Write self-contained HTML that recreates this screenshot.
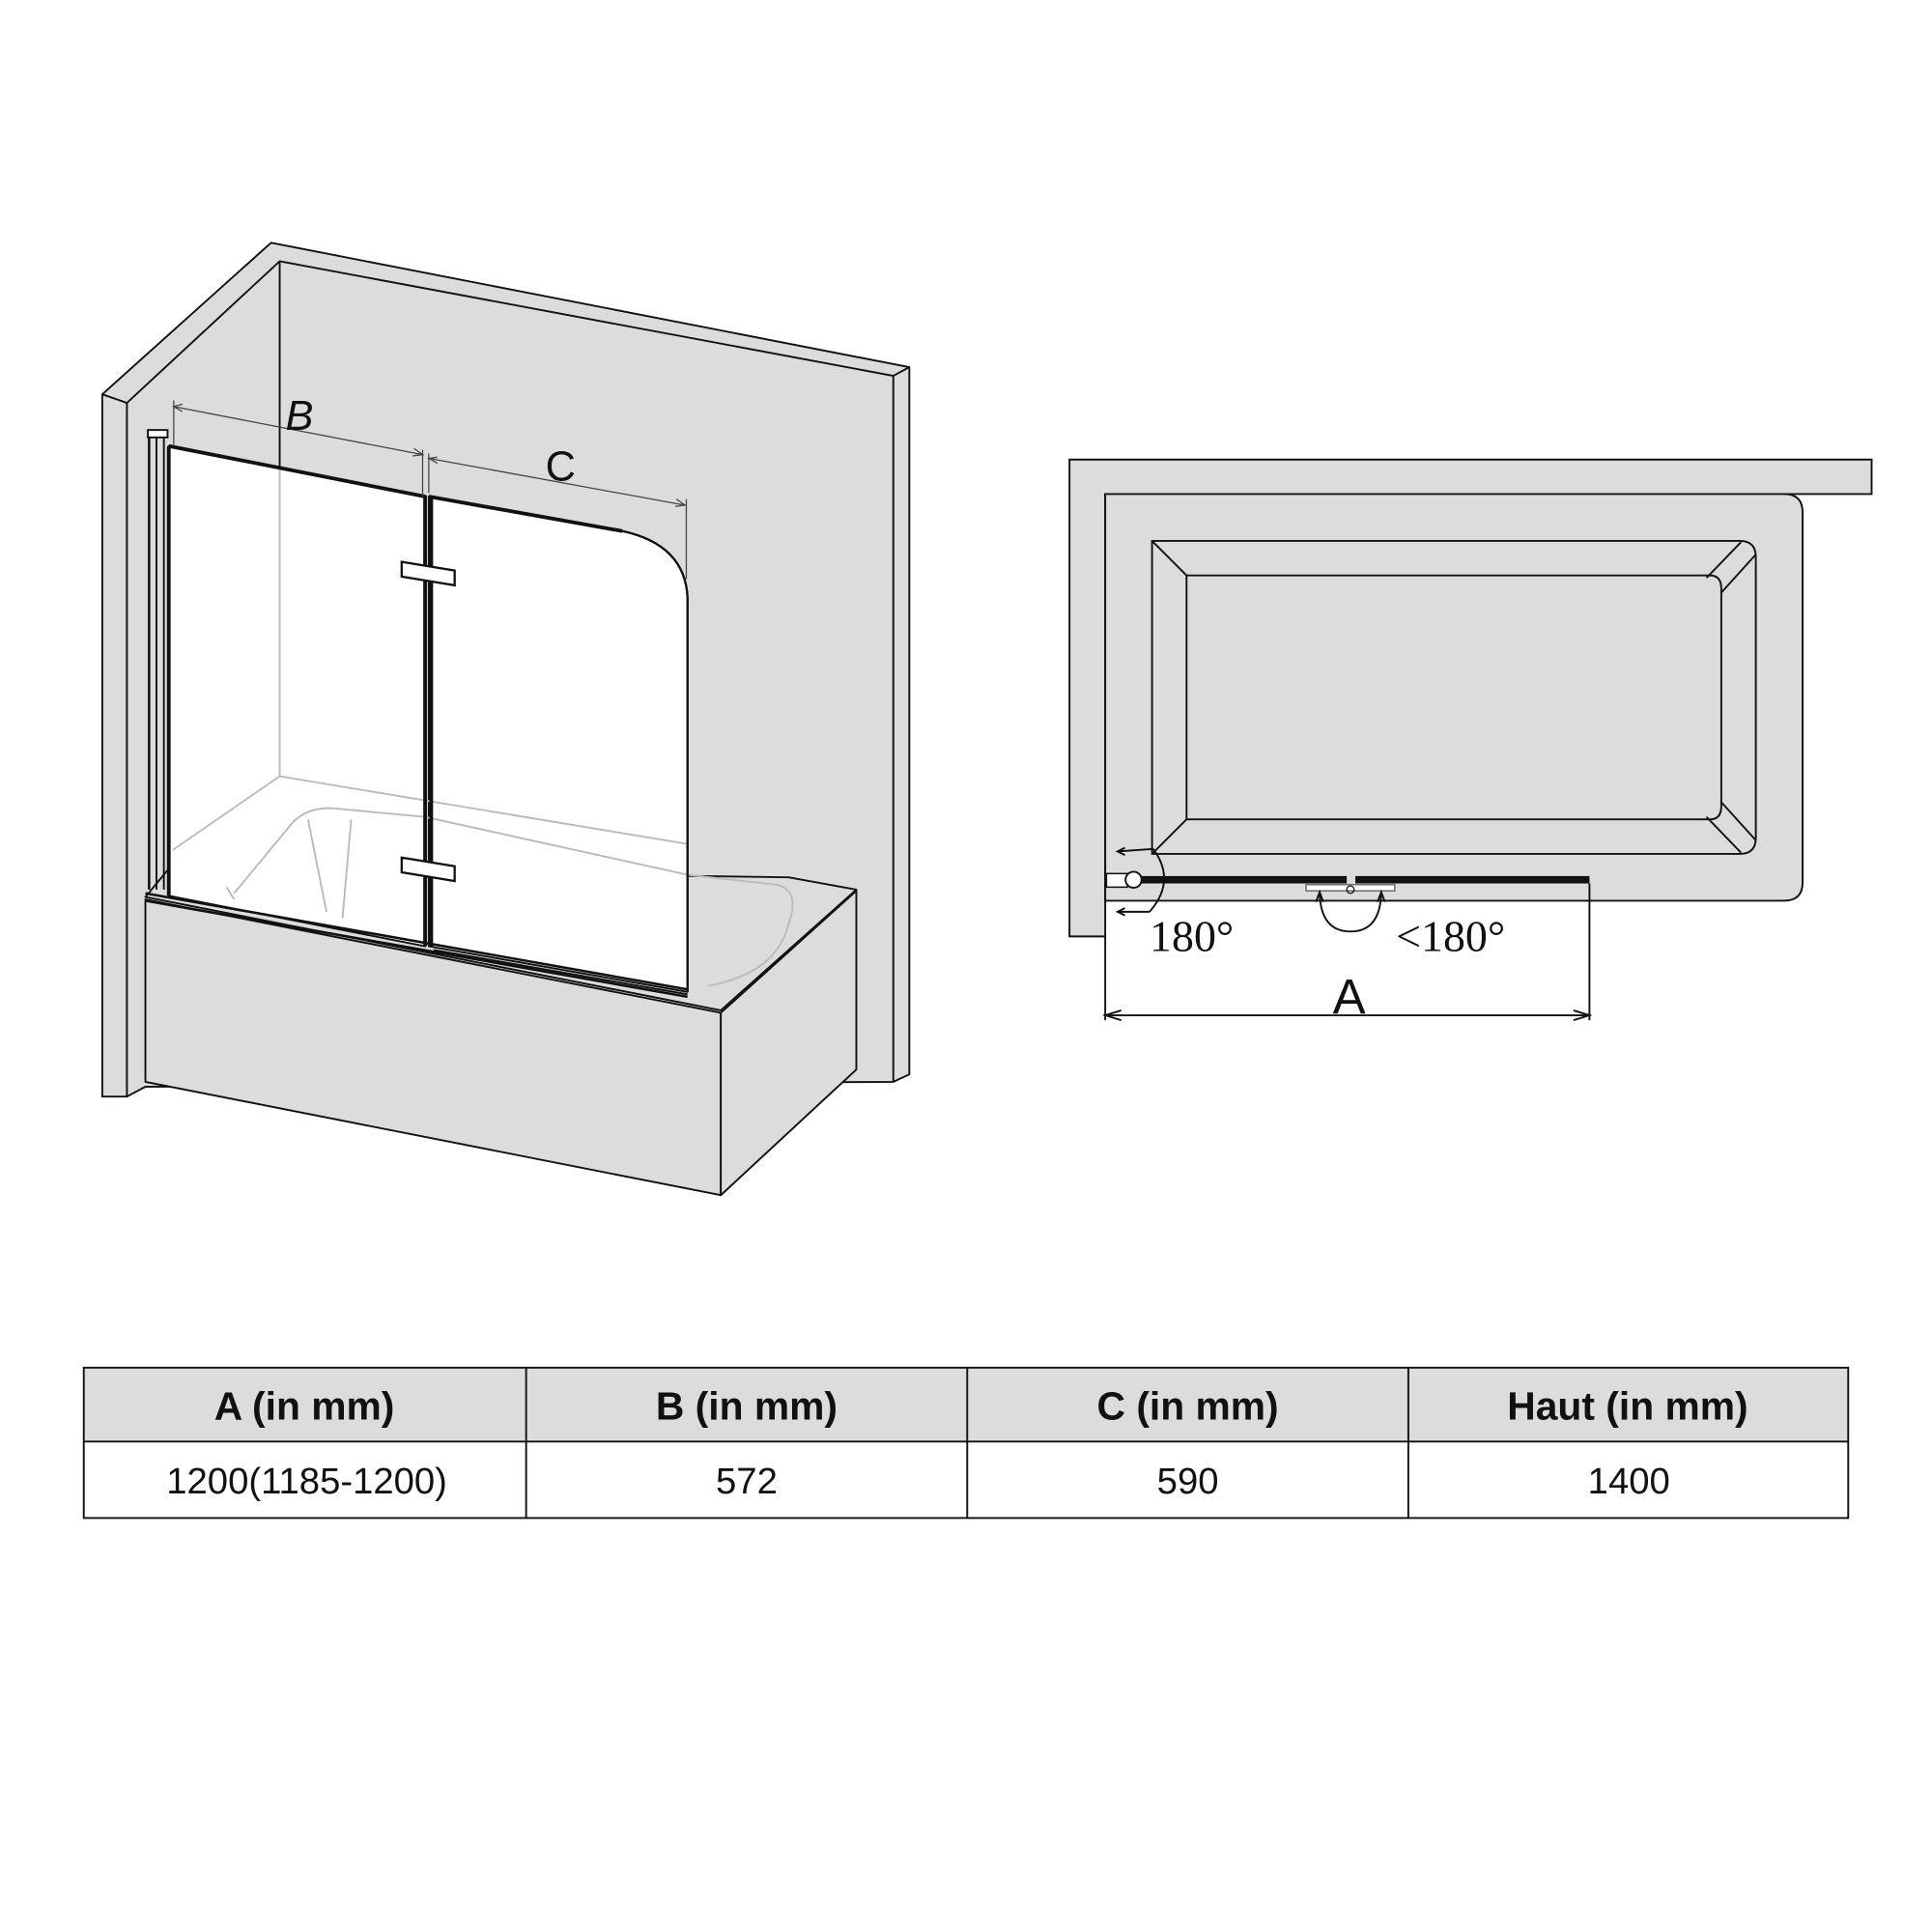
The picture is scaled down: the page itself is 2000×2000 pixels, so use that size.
<!DOCTYPE html>
<html><head><meta charset="utf-8"><style>html,body{margin:0;padding:0;background:#fff}svg{display:block}</style></head>
<body>
<svg width="2000" height="2000" viewBox="0 0 1568 1568" xmlns="http://www.w3.org/2000/svg" font-family="Liberation Sans, sans-serif">
<rect width="1568" height="1568" fill="#fff"/>
<!-- LEFT DRAWING -->
<g stroke="#111" stroke-width="1.5" stroke-linejoin="round">
<polygon points="83,320 220,197 738,298 738,872 725,878 118,882 103,890 83,890" fill="#dcdcdc"/>
<polyline points="103,890 103,327 227,212 725,305 725,878" fill="none"/>
<line x1="725" y1="305" x2="738" y2="298"/>
<line x1="83" y1="320" x2="103" y2="327"/>
<line x1="227" y1="212" x2="227" y2="380"/>
<polygon points="118,728 585,820 695,722 640,712 137,705" fill="#dcdcdc"/>
<polygon points="118,730 585,822 585,970 118,878" fill="#dcdcdc"/>
<polygon points="585,822 695,723 695,868 585,970" fill="#dcdcdc"/>
<polygon points="137,362 345,403 345,768 137,727" fill="#fff"/>
<path d="M348,403 L505,431 Q556,442 558,485 L558,805 L348,768 Z" fill="#fff"/>
</g>
<g stroke="#bbb" stroke-width="1.5" fill="none">
<line x1="227" y1="380" x2="227" y2="630"/>
<line x1="227" y1="630" x2="140" y2="690"/>
<line x1="227" y1="630" x2="558" y2="685"/>
<path d="M190,725 L238,667 Q250,655 270,656 L345,663 L558,710 L630,718 Q650,722 640,750 Q630,790 575,800"/>
<line x1="250" y1="665" x2="265" y2="740"/>
<line x1="285" y1="665" x2="278" y2="745"/>
<line x1="184" y1="720" x2="190" y2="730"/>
</g>
<g stroke="#111" fill="none">
<line x1="137" y1="362" x2="345" y2="403" stroke-width="3"/>
<line x1="348" y1="403" x2="505" y2="431" stroke-width="3"/>
<path d="M505,431 Q556,442 558,485 L558,805" stroke-width="1.8"/>
<line x1="137" y1="362" x2="137" y2="727" stroke-width="3"/>
<line x1="121" y1="352" x2="121" y2="722" stroke-width="2"/>
<line x1="127" y1="352" x2="127" y2="722" stroke-width="1.5"/>
<line x1="133" y1="352" x2="133" y2="722" stroke-width="1.5"/>
<rect x="120" y="349" width="16" height="6" fill="#fff" stroke-width="1.5"/>
<line x1="345" y1="402" x2="345" y2="768" stroke-width="3"/>
<line x1="350" y1="403" x2="350" y2="768" stroke-width="3"/>
<line x1="118" y1="725" x2="558" y2="803" stroke-width="2"/>
<line x1="118" y1="731" x2="558" y2="809" stroke-width="2"/>
<line x1="140" y1="735" x2="345" y2="771" stroke-width="1.5"/>
<line x1="352" y1="771" x2="558" y2="807" stroke-width="1.5"/>
</g>
<g stroke="#111" stroke-width="1.8" fill="#fff">
<polygon points="326,456 369,463 369,475 326,468"/>
<polygon points="326,696 369,703 369,715 326,708"/>
</g>
<g stroke="#444" stroke-width="1" fill="none">
<line x1="141" y1="330" x2="343" y2="369"/><line x1="141" y1="325" x2="141" y2="362"/><line x1="343" y1="365" x2="343" y2="403"/>
<line x1="348" y1="372" x2="556" y2="410"/><line x1="348" y1="368" x2="348" y2="400"/><line x1="557" y1="405" x2="557" y2="470"/>
<path d="M148,328 L141,330 L148,334"/><path d="M336,364 L343,369 L335,370"/>
<path d="M355,371 L348,372 L355,376"/><path d="M549,405 L556,410 L548,411"/>
</g>
<text x="243" y="349" font-size="34" text-anchor="middle" font-style="italic" fill="#111">B</text>
<text x="455" y="390" font-size="34" text-anchor="middle" fill="#111">C</text>

<!-- RIGHT DRAWING -->
<g stroke="#111" stroke-width="1.5" fill="#dcdcdc">
<polygon points="868,373 1519,373 1519,401 897,401 897,760 868,760"/>
<path d="M897,401 H1448 Q1463,401 1463,416 V716 Q1463,731 1448,731 H897 Z"/>
<path d="M935,439 H1412 Q1425,439 1425,452 V680 Q1425,693 1412,693 H935 Z"/>
<path d="M963,467 H1388 Q1397,467 1397,478 V654 Q1397,665 1388,665 H963 Z"/>
<g fill="none">
<line x1="935" y1="439" x2="963" y2="467"/><line x1="935" y1="693" x2="963" y2="665"/>
<line x1="1413" y1="440" x2="1385" y2="469"/><line x1="1425" y1="450" x2="1397" y2="481"/>
<line x1="1413" y1="692" x2="1385" y2="663"/><line x1="1425" y1="682" x2="1397" y2="651"/>
</g>
</g>
<rect x="925" y="711" width="168" height="6" fill="#111"/>
<rect x="1100" y="711" width="190" height="6" fill="#111"/>
<rect x="898" y="709" width="17" height="11" fill="#fff" stroke="#111" stroke-width="1.2"/>
<circle cx="920" cy="714" r="6.5" fill="#fff" stroke="#111" stroke-width="1.5"/>
<rect x="1060" y="718" width="72" height="5" fill="#fff" stroke="#555" stroke-width="1"/>
<circle cx="1096" cy="722" r="3" fill="none" stroke="#111" stroke-width="1"/>
<g stroke="#111" stroke-width="1.5" fill="none">
<path d="M936,689 Q955,715 933,740"/>
<path d="M907,691 L936,689 M913,688 L907,691 L913,694"/>
<path d="M907,740 L933,740 M913,737 L907,740 L913,743"/>
<path d="M1071,725 Q1072,756 1096,756 Q1120,756 1121,725"/>
<path d="M1068,732 L1071,724 L1074,732"/><path d="M1118,732 L1121,724 L1124,732"/>
<line x1="897" y1="760" x2="897" y2="828"/><line x1="1290" y1="717" x2="1290" y2="828"/>
<line x1="897" y1="824" x2="1290" y2="824"/>
<path d="M910,820 L897,824 L910,828 M1277,820 L1290,824 L1277,828"/>
</g>
<text x="933" y="772" font-family="Liberation Serif, serif" font-size="36" fill="#111">180°</text>
<text x="1133" y="772" font-family="Liberation Serif, serif" font-size="36" fill="#111">&lt;180°</text>
<text x="1095" y="823" font-size="40" text-anchor="middle" fill="#111">A</text>

<!-- TABLE -->
<rect x="68" y="1110" width="1432" height="60" fill="#dcdcdc"/>
<g stroke="#111" stroke-width="1.5" fill="none">
<rect x="68" y="1110" width="1432" height="122"/>
<line x1="68" y1="1170" x2="1500" y2="1170"/>
<line x1="427" y1="1110" x2="427" y2="1232"/><line x1="785" y1="1110" x2="785" y2="1232"/><line x1="1143" y1="1110" x2="1143" y2="1232"/>
</g>
<g font-size="32" font-weight="bold" text-anchor="middle" fill="#111">
<text x="247" y="1152">A (in mm)</text><text x="606" y="1152">B (in mm)</text><text x="964" y="1152">C (in mm)</text><text x="1321" y="1152">Haut (in mm)</text>
</g>
<g font-size="30" text-anchor="middle" fill="#111">
<text x="249" y="1212">1200(1185-1200)</text><text x="606" y="1212">572</text><text x="964" y="1212">590</text><text x="1322" y="1212">1400</text>
</g>
</svg>
</body></html>
